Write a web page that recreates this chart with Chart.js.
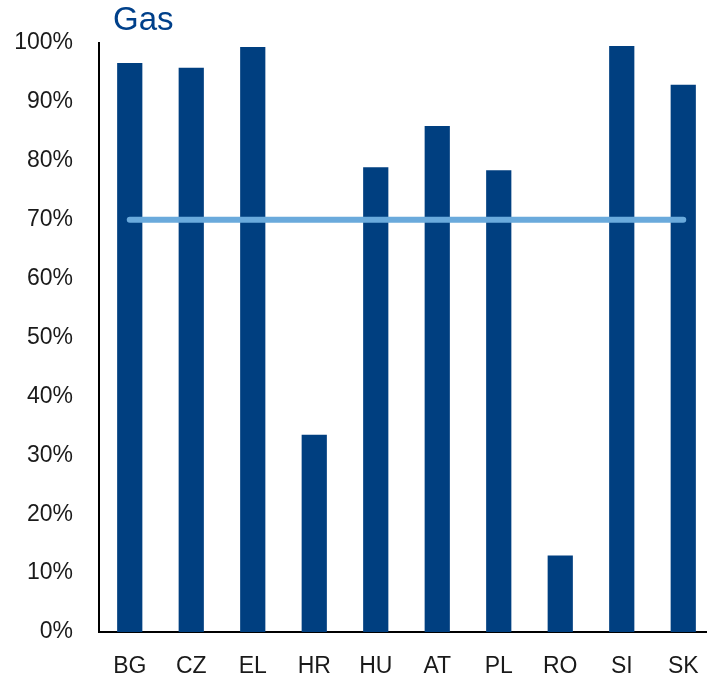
<!DOCTYPE html>
<html>
<head>
<meta charset="utf-8">
<script src="https://cdn.jsdelivr.net/npm/chart.js@4"></script>
<style>
    html, body { margin: 0; padding: 0; background: #fff; overflow: hidden; }
    #wrap { position: relative; width: 714px; height: 679px; }
    #title { position: absolute; left: 113px; top: 0px; font: 33px 'Liberation Sans', Arial, sans-serif; color: #00408a; }
</style>
</head>
<body>
<div id="wrap">
    <div id="title">Gas</div>
    <canvas id="gasChart" width="714" height="679"></canvas>
</div>
<script>
const countries = ['BG', 'CZ', 'EL', 'HR', 'HU', 'AT', 'PL', 'RO', 'SI', 'SK'];
const gasShare = [96.6, 95.8, 99.3, 33.5, 78.9, 85.9, 78.4, 13.0, 99.5, 92.9];
const targetLevel = [70, 70, 70, 70, 70, 70, 70, 70, 70, 70];
const yTicks = [0, 10, 20, 30, 40, 50, 60, 70, 80, 90, 100];

document.addEventListener('DOMContentLoaded', function () {
    const ctx = document.getElementById('gasChart').getContext('2d');

    new Chart(ctx, {
        data: {
            labels: countries,
            datasets: [
                {
                    type: 'line',
                    label: 'Target',
                    data: targetLevel,
                    borderColor: '#6aaadc',
                    borderWidth: 6,
                    borderCapStyle: 'round',
                    pointRadius: 0,
                    fill: false
                },
                {
                    type: 'bar',
                    label: 'Gas',
                    data: gasShare,
                    backgroundColor: '#003f80',
                    barPercentage: 0.41,
                    categoryPercentage: 1
                }
            ]
        },
        options: {
            responsive: false,
            animation: false,
            layout: {
                padding: { top: 43, right: 0, left: 0, bottom: 0 }
            },
            scales: {
                x: {
                    grid: { display: false },
                    border: { color: '#000', width: 2 },
                    ticks: {
                        color: '#1a1a1a',
                        padding: 13,
                        font: { family: 'Liberation Sans', size: 23 }
                    },
                    afterFit: function (scale) { scale.height = 47; }
                },
                y: {
                    min: 0,
                    max: 100,
                    grid: { display: false },
                    border: { color: '#000', width: 2 },
                    afterBuildTicks: function (scale) {
                        scale.ticks = yTicks.map(function (v) { return { value: v }; });
                    },
                    ticks: {
                        color: '#1a1a1a',
                        padding: 18,
                        font: { family: 'Liberation Sans', size: 23 },
                        callback: function (v) { return v + '%'; }
                    },
                    afterFit: function (scale) { scale.width = 99; }
                }
            },
            plugins: {
                legend: { display: false },
                tooltip: { enabled: false }
            }
        }
    });
});
</script>
</body>
</html>
